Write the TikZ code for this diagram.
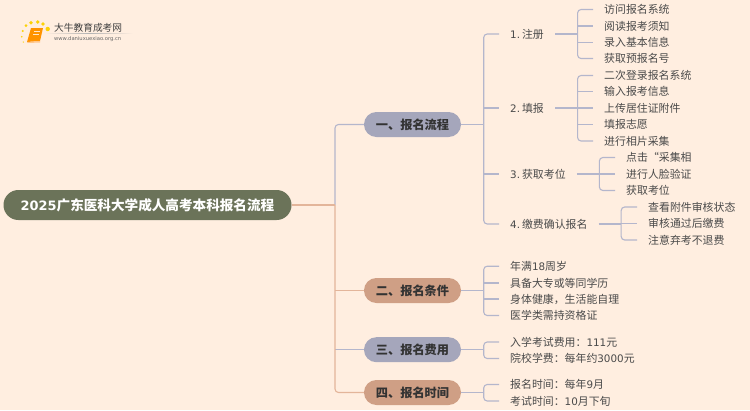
\documentclass[tikz,border=0pt]{standalone}
\usepackage{fontspec}
\setmainfont{Noto Sans CJK SC}
\newfontfamily\dejavu[Scale=.95]{DejaVu Sans}
\usetikzlibrary{positioning}
\definecolor{pagebg}{HTML}{FFEEE0}
\definecolor{rootgreen}{HTML}{6B7359}
\definecolor{lavnode}{HTML}{A5A6BB}
\definecolor{salmnode}{HTML}{CF9F85}
\definecolor{lavline}{HTML}{B4B6CC}
\definecolor{salmline}{HTML}{E3B59A}
\definecolor{inktext}{HTML}{4A4A4A}
\tikzset{
  rootnode/.style={fill=rootgreen,text=white,rounded corners=14.9pt,minimum width=288pt,minimum height=30pt,inner sep=0pt,font=\fontsize{13.6}{14}\selectfont\bfseries},
  branchnode/.style={rounded corners=12.4pt,minimum width=97pt,minimum height=25pt,inner sep=0pt,text=black!80,font=\fontsize{12.2}{14}\selectfont\bfseries},
  leafnode/.style={anchor=west,inner xsep=11pt,inner ysep=0pt,yshift=-.5pt,text=inktext,font=\fontsize{10.9}{12}\selectfont},
  lavlink/.style={draw=lavline,line width=1.1pt,rounded corners=3.5pt},
  salmlink/.style={draw=salmline,line width=1.1pt,rounded corners=3.5pt}
}
\begin{document}
\begin{tikzpicture}[x=1pt,y=-1pt]
\fill[pagebg] (0,0) rectangle (750,410);
\useasboundingbox (0,0) rectangle (750,410);
% logo
\foreach \dotx/\doty/\dotr in {22.7/31/1.1,21.7/36.7/.9,23.3/42/.7,26/25.7/1.5,31/22.7/1.8,37.7/22/1.9,43/24/1.9,47.7/29/2.2}
  \fill[yellow!70!orange] (\dotx,\doty) circle(\dotr);
\fill[orange!85!yellow] (31,28) -- (43,28) -- (40,41) -- (27,42) -- cycle;
\fill[white!55!orange] (27,42) -- (40,41) -- (40,42.5) -- (28,43) -- cycle;
\draw[white!80!orange,line width=.7pt] (33.5,31) -- (40,31) (33,34) -- (39,34);
\shade[left color=pagebg,right color=pagebg,middle color=black!30] (45,33) rectangle (133,33.8);
\node[anchor=west,inner sep=0pt,text=black!75,font=\fontsize{9.7}{11}\selectfont] (logotext) at (54,27.5) {大牛教育成考网};
\node[anchor=west,inner sep=0pt,text=black!60,font=\fontsize{5.5}{6}\dejavu] (logourl) at (54,39) {www.daniuxuexiao.org.cn};
% root and branches
\node[rootnode] (root) at (147.5,205) {{\dejavu\bfseries 2025}广东医科大学成人高考本科报名流程};
\node[branchnode,fill=lavnode] (b1) at (412.5,124.5) {一、报名流程};
\node[branchnode,fill=salmnode] (b2) at (412.5,290.5) {二、报名条件};
\node[branchnode,fill=lavnode] (b3) at (412.5,349.7) {三、报名费用};
\node[branchnode,fill=salmnode] (b4) at (412.5,392.5) {四、报名时间};
% steps
\node[leafnode] (s1) at (499,33.5) {{\dejavu 1.}\hspace{2pt}注册};
\node[leafnode] (s2) at (499,107.5) {{\dejavu 2.}\hspace{2pt}填报};
\node[leafnode] (s3) at (499,173.5) {{\dejavu 3.}\hspace{2pt}获取考位};
\node[leafnode] (s4) at (499,223.5) {{\dejavu 4.}\hspace{2pt}缴费确认报名};
% leaves of step 1
\node[leafnode] (a1) at (593,9) {访问报名系统};
\node[leafnode] (a2) at (593,25.5) {阅读报考须知};
\node[leafnode] (a3) at (593,42) {录入基本信息};
\node[leafnode] (a4) at (593,58) {获取预报名号};
% leaves of step 2
\node[leafnode] (c1) at (593,75) {二次登录报名系统};
\node[leafnode] (c2) at (593,91) {输入报考信息};
\node[leafnode] (c3) at (593,107.5) {上传居住证附件};
\node[leafnode] (c4) at (593,124) {填报志愿};
\node[leafnode] (c5) at (593,140.5) {进行相片采集};
% leaves of step 3
\node[leafnode] (d1) at (615,157) {点击“采集相};
\node[leafnode] (d2) at (615,173.5) {进行人脸验证};
\node[leafnode] (d3) at (615,190) {获取考位};
% leaves of step 4
\node[leafnode] (e1) at (637,206.5) {查看附件审核状态};
\node[leafnode] (e2) at (637,223) {审核通过后缴费};
\node[leafnode] (e3) at (637,239.5) {注意弃考不退费};
% other branches
\node[leafnode] (f1) at (499,265.7) {年满{\dejavu 18}周岁};
\node[leafnode] (f2) at (499,282.5) {具备大专或等同学历};
\node[leafnode] (f3) at (499,298.5) {身体健康，生活能自理};
\node[leafnode] (f4) at (499,315) {医学类需持资格证};
\node[leafnode] (g1) at (499,341.5) {入学考试费用：{\dejavu 111}元};
\node[leafnode] (g2) at (499,358) {院校学费：每年约{\dejavu 3000}元};
\node[leafnode] (h1) at (499,384) {报名时间：每年{\dejavu 9}月};
\node[leafnode] (h2) at (499,400.5) {考试时间：{\dejavu 10}月下旬};
% connectors
\coordinate (t0) at (335,205);
\draw[lavlink] (b1.west) -| (t0);
\draw[lavlink] (b3.west) -- (b3.west -| t0);
\draw[salmlink] (root.east) -- (t0);
\draw[salmlink] (t0) |- (b4.west);
\draw[salmlink] (b2.west) -- (b2.west -| t0);
% each group: parent, first kid, last kid
\foreach \up/\fkid/\lkid in {b1/s1/s4,s1/a1/a4,s2/c1/c5,s3/d1/d3,s4/e1/e3,b2/f1/f4,b3/g1/g2,b4/h1/h2}{
  \coordinate (tk) at ([xshift=22.5pt]\up.east);
  \draw[lavlink] (\up.east) -- (tk);
  \draw[lavlink] (\fkid.west) -| (tk) |- (\lkid.west);
}
% kids between first and last
\foreach \up/\kid in {b1/s2,b1/s3,s1/a2,s1/a3,s2/c2,s2/c3,s2/c4,s3/d2,s4/e2,b2/f2,b2/f3}{
  \coordinate (tk) at ([xshift=22.5pt]\up.east);
  \draw[lavlink] (\kid.west -| tk) -- (\kid.west);
}
\end{tikzpicture}
\end{document}
